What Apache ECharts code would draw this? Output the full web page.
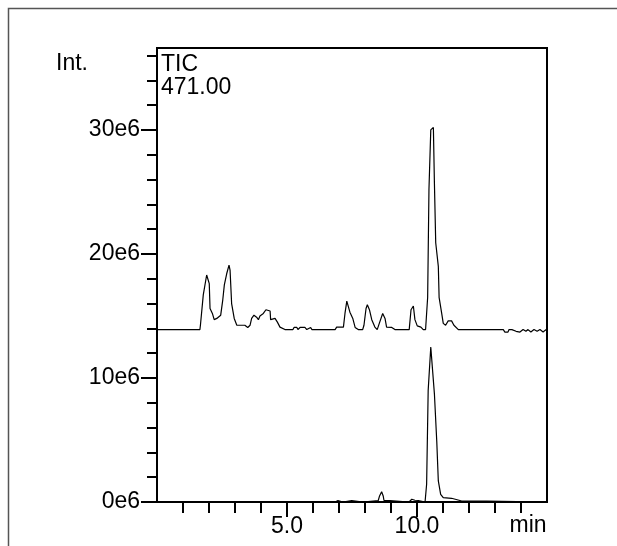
<!DOCTYPE html>
<html><head><meta charset="utf-8">
<script src="https://cdn.jsdelivr.net/npm/echarts@6/dist/echarts.min.js"></script>
<style>html,body{margin:0;padding:0;background:#fff}#c{width:617px;height:546px}</style>
</head><body><div id="c"></div>
<script>
// Retention time (min) and intensity (in units of 1e6) — upper (offset) TIC trace
const upperTime = [0,1.65,1.67,1.72,1.78,1.91,2.01,2.04,2.13,2.20,
2.30,2.45,2.53,2.59,2.68,2.77,2.81,2.87,2.97,3.07,
3.38,3.49,3.58,3.64,3.73,3.83,3.90,3.96,4.09,4.19,
4.26,4.35,4.37,4.54,4.63,4.73,4.92,5.23,5.27,5.38,
5.42,5.50,5.69,5.76,5.91,5.96,6.85,6.91,7.17,7.23,
7.30,7.36,7.42,7.53,7.62,7.74,7.91,7.96,8.04,8.09,
8.17,8.26,8.38,8.47,8.55,8.68,8.77,8.83,9.03,9.15,
9.70,9.77,9.86,9.92,10.01,10.15,10.24,10.33,10.41,10.46,
10.53,10.63,10.67,10.72,10.82,10.85,10.95,11.01,11.10,11.20,
11.33,11.42,11.59,13.32,13.38,13.50,13.54,13.65,13.69,13.81,
13.85,13.96,14.08,14.19,14.27,14.38,14.50,14.62,14.73,14.85,
14.96,15.0];
const upperInt = [13.9,13.9,14.25,14.25,16.7,18.3,17.6,15.6,15.2,14.7,
14.8,15.06,16.3,17.5,18.4,19.1,18.7,16.0,14.8,14.25,
14.25,14.07,14.25,14.8,15.06,14.9,14.7,15.0,15.2,15.5,
15.6,15.4,14.7,14.8,14.5,14.1,13.9,13.9,14.07,14.07,
13.9,14.07,14.07,13.9,14.07,13.9,13.9,14.1,14.1,15.2,
16.2,16.1,15.3,14.8,14.07,13.9,13.9,14.25,15.6,15.9,
15.5,14.7,14.1,13.9,14.4,15.2,14.8,14.1,14.07,13.9,
13.9,15.5,15.8,14.7,14.2,14.1,13.9,13.9,16.5,25.2,
30.0,30.2,25.7,20.9,19.0,16.5,15.2,14.4,14.25,14.6,
14.6,14.25,13.9,13.9,13.7,13.7,13.9,13.9,13.76,13.76,
13.9,13.7,13.9,13.76,13.9,13.7,13.9,13.76,13.9,13.7,
13.9,13.85];
// lower trace
const lowerTime = [0,6.85,6.88,6.96,7.00,7.15,7.17,7.49,7.50,7.92,
7.94,8.51,8.56,8.64,8.70,8.73,8.96,8.99,9.69,9.73,
9.80,9.86,9.92,10.05,10.14,10.18,10.31,10.37,10.43,10.53,
10.60,10.67,10.76,10.82,10.91,11.01,11.33,11.40,11.72,12.68,
12.71,15];
const lowerInt = [0,0,0.12,0.12,0,0,0.12,0.12,0,0,
0.12,0.12,0.49,0.83,0.49,0.12,0.12,0,0,0.08,
0.22,0.28,0.14,0.12,0.08,0,0,1.43,9.0,12.5,
12.4,8.7,4.9,1.7,0.62,0.35,0.30,0.14,0.08,0.08,
0,0];

const xMinorTicks = [1,2,3,4,5,6,7,8,9,10,11,12,13,14];
const xMajorTicks = [5,10];
const xTickLabels = ['5.0','10.0'];
const yMinorTicks = [0,2,4,6,8,10,12,14,16,18,20,22,24,26,28,30,32,34,36];
const yMajorTicks = [0,10,20,30];
const yTickLabels = ['0e6','10e6','20e6','30e6'];
const xMin = 0, xMax = 15, yMin = 0, yMax = 36.6;

const FONT = '"Liberation Sans", Arial, sans-serif';
const FS = 23;
const chart = echarts.init(document.getElementById('c'), null, {renderer:'canvas'});

const baseX = {type:'value', min:xMin, max:xMax, position:'bottom', splitLine:{show:false}};
const baseY = {type:'value', min:yMin, max:yMax, position:'left', splitLine:{show:false}};

chart.setOption({
  animation:false,
  backgroundColor:'#fff',
  grid:{left:157, top:48, right:70, bottom:44, show:true, borderColor:'#000', borderWidth:2},
  xAxis:[
    Object.assign({}, baseX, {
      axisLine:{show:true, lineStyle:{color:'#000', width:2}},
      axisTick:{show:true, customValues:xMinorTicks, length:11, lineStyle:{color:'#000', width:2}},
      axisLabel:{show:false}
    }),
    Object.assign({}, baseX, {
      axisLine:{show:false},
      axisTick:{show:true, customValues:xMajorTicks, length:15, lineStyle:{color:'#000', width:2}},
      axisLabel:{show:true, customValues:xMajorTicks, margin:13, color:'#000', fontSize:FS, fontFamily:FONT,
        formatter:v => xTickLabels[xMajorTicks.indexOf(v)]}
    })
  ],
  yAxis:[
    Object.assign({}, baseY, {
      axisLine:{show:true, lineStyle:{color:'#000', width:2}},
      axisTick:{show:true, customValues:yMinorTicks, length:10, lineStyle:{color:'#000', width:2}},
      axisLabel:{show:false}
    }),
    Object.assign({}, baseY, {
      axisLine:{show:false},
      axisTick:{show:true, customValues:yMajorTicks, length:16, lineStyle:{color:'#000', width:2}},
      axisLabel:{show:true, customValues:yMajorTicks, margin:17, color:'#000', fontSize:FS, fontFamily:FONT,
        formatter:v => yTickLabels[yMajorTicks.indexOf(v)]}
    })
  ],
  series:[
    {type:'line', xAxisIndex:0, yAxisIndex:0, showSymbol:false, silent:true,
     lineStyle:{color:'#000', width:1.2},
     data: upperTime.map((t,i)=>[t, upperInt[i]])},
    {type:'line', xAxisIndex:0, yAxisIndex:0, showSymbol:false, silent:true,
     lineStyle:{color:'#000', width:1.2},
     data: lowerTime.map((t,i)=>[t, lowerInt[i]])}
  ],
  graphic:[
    {type:'rect', silent:true, shape:{x:8.5, y:8.5, width:900, height:900},
     style:{fill:'none', stroke:'#555', lineWidth:1.5}},
    {type:'text', x:56, y:64, style:{text:'Int.', font:FS+'px '+FONT, fill:'#000', align:'left', verticalAlign:'middle'}},
    {type:'text', x:161, y:65, style:{text:'TIC', font:FS+'px '+FONT, fill:'#000', align:'left', verticalAlign:'middle'}},
    {type:'text', x:161, y:88, style:{text:'471.00', font:FS+'px '+FONT, fill:'#000', align:'left', verticalAlign:'middle'}},
    {type:'text', x:528, y:526, style:{text:'min', font:FS+'px '+FONT, fill:'#000', align:'center', verticalAlign:'middle'}}
  ]
});
</script></body></html>
